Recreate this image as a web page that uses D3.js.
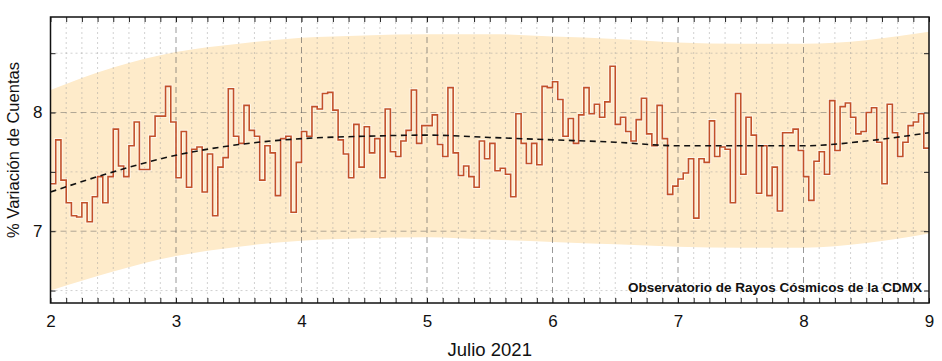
<!DOCTYPE html>
<html>
<head>
<meta charset="utf-8">
<script src="https://cdn.jsdelivr.net/npm/d3@7"></script>
<style>
body { margin: 0; background: #fff; }
text { font-family: "Liberation Sans", Arial, sans-serif; }
</style>
</head>
<body>
<svg width="942" height="361"></svg>
<script>
// hourly values, July 2 .. July 8 (24 per day)
var jul2 = [7.40, 7.77, 7.43, 7.24, 7.13, 7.12, 7.24, 7.08, 7.29, 7.46, 7.24, 7.46, 7.86, 7.55, 7.46, 7.72, 7.92, 7.52, 7.52, 7.80, 7.97, 7.97, 8.22, 7.92];
var jul3 = [7.45, 7.84, 7.37, 7.69, 7.71, 7.33, 7.65, 7.13, 7.54, 7.62, 8.20, 7.80, 7.74, 8.06, 7.85, 7.80, 7.43, 7.72, 7.66, 7.30, 7.78, 7.80, 7.16, 7.58];
var jul4 = [7.84, 7.80, 8.05, 8.03, 8.16, 8.17, 8.02, 7.77, 7.65, 7.45, 7.90, 7.54, 7.88, 7.66, 7.78, 7.45, 8.03, 7.67, 7.63, 7.76, 7.85, 8.19, 7.74, 7.89];
var jul5 = [7.89, 7.98, 7.73, 7.63, 8.21, 7.66, 7.47, 7.55, 7.46, 7.37, 7.76, 7.61, 7.74, 7.51, 7.53, 7.48, 7.29, 7.99, 7.74, 7.57, 7.74, 7.56, 8.22, 8.21];
var jul6 = [8.26, 8.11, 7.80, 7.95, 7.74, 7.98, 8.21, 7.99, 8.07, 7.96, 8.09, 8.39, 7.90, 7.96, 7.84, 7.76, 7.94, 8.12, 7.82, 7.72, 8.06, 7.78, 7.31, 7.38];
var jul7 = [7.44, 7.49, 7.61, 7.11, 7.61, 7.58, 7.93, 7.63, 7.71, 7.69, 7.24, 8.16, 7.48, 7.96, 7.81, 7.32, 7.72, 7.30, 7.54, 7.17, 7.83, 7.83, 7.86, 7.68];
var jul8 = [7.46, 7.26, 7.59, 7.67, 7.48, 8.10, 7.68, 8.05, 8.08, 7.96, 7.82, 7.84, 8.00, 8.04, 7.75, 7.40, 8.07, 7.83, 7.63, 7.75, 7.89, 7.92, 7.99, 7.70];

// smooth trend and its band, read every half day
var trendDays = [2, 2.5, 3, 3.5, 4, 4.5, 5, 5.5, 6, 6.5, 7, 7.5, 8, 8.5, 9];
var trend = [7.33, 7.50, 7.64, 7.73, 7.78, 7.80, 7.81, 7.79, 7.77, 7.75, 7.72, 7.72, 7.72, 7.76, 7.83];
var bandHigh = [8.19, 8.38, 8.51, 8.58, 8.63, 8.65, 8.66, 8.66, 8.64, 8.62, 8.59, 8.58, 8.58, 8.61, 8.68];
var bandLow = [6.50, 6.66, 6.79, 6.87, 6.92, 6.94, 6.95, 6.93, 6.91, 6.89, 6.87, 6.86, 6.86, 6.90, 6.98];

var dayTicks = [2, 3, 4, 5, 6, 7, 8, 9];
var yTicks = [7, 8];

var svg = d3.select("svg"),
    margin = {top: 17, right: 13, bottom: 58, left: 50.5},
    width = 942 - margin.left - margin.right,
    height = 361 - margin.top - margin.bottom,
    g = svg.append("g").attr("transform", "translate(" + margin.left + "," + margin.top + ")");

var x = d3.scaleLinear().domain([2, 9]).range([0, width]);
var y = d3.scaleLinear().domain([6.395, 8.805]).range([height, 0]);

var hourly = [].concat(jul2, jul3, jul4, jul5, jul6, jul7, jul8);
var series = hourly.map(function(v, i) { return {t: 2 + i / 24, v: v}; });
series.push({t: 9, v: hourly[hourly.length - 1]});

var minorX = d3.range(2, 9.001, 0.125);
var minorY = [6.5, 7.5, 8.5];

g.append("clipPath").attr("id", "clip")
  .append("rect").attr("width", width).attr("height", height);

// band
var area = d3.area()
    .x(function(d, i) { return x(trendDays[i]); })
    .y0(function(d, i) { return y(bandLow[i]); })
    .y1(function(d, i) { return y(bandHigh[i]); })
    .curve(d3.curveMonotoneX);

g.append("path")
    .datum(trend)
    .attr("clip-path", "url(#clip)")
    .attr("fill", "#feebca")
    .attr("d", area);

// grid
g.append("g").selectAll("line")
    .data(minorX.filter(function(d) { return dayTicks.indexOf(d) < 0; }))
    .enter().append("line")
    .attr("x1", x).attr("x2", x)
    .attr("y1", 0).attr("y2", height)
    .attr("stroke", "#999").attr("stroke-opacity", 0.45)
    .attr("stroke-dasharray", "2,3");

g.append("g").selectAll("line")
    .data(minorY)
    .enter().append("line")
    .attr("x1", 0).attr("x2", width)
    .attr("y1", y).attr("y2", y)
    .attr("stroke", "#999").attr("stroke-opacity", 0.45)
    .attr("stroke-dasharray", "2,3");

g.append("g").selectAll("line")
    .data(dayTicks.slice(1, -1))
    .enter().append("line")
    .attr("x1", x).attr("x2", x)
    .attr("y1", 0).attr("y2", height)
    .attr("stroke", "#555").attr("stroke-opacity", 0.6)
    .attr("stroke-dasharray", "6,4");

g.append("g").selectAll("line")
    .data(yTicks)
    .enter().append("line")
    .attr("x1", 0).attr("x2", width)
    .attr("y1", y).attr("y2", y)
    .attr("stroke", "#555").attr("stroke-opacity", 0.45)
    .attr("stroke-dasharray", "6,4");

// hourly step line
var line = d3.line()
    .x(function(d) { return x(d.t); })
    .y(function(d) { return y(d.v); })
    .curve(d3.curveStepAfter);

g.append("path")
    .datum(series)
    .attr("clip-path", "url(#clip)")
    .attr("fill", "none")
    .attr("stroke", "#fff")
    .attr("stroke-opacity", 0.6)
    .attr("stroke-width", 3.5)
    .attr("d", line);

g.append("path")
    .datum(series)
    .attr("clip-path", "url(#clip)")
    .attr("fill", "none")
    .attr("stroke", "#c2502a")
    .attr("stroke-width", 1.6)
    .attr("d", line);

// trend
var trendLine = d3.line()
    .x(function(d, i) { return x(trendDays[i]); })
    .y(function(d) { return y(d); })
    .curve(d3.curveMonotoneX);

g.append("path")
    .datum(trend)
    .attr("fill", "none")
    .attr("stroke", "#111")
    .attr("stroke-width", 1.6)
    .attr("stroke-dasharray", "6,4.5")
    .attr("d", trendLine);

// axes, ticks pointing inward
g.append("g")
    .attr("transform", "translate(0," + height + ")")
    .call(d3.axisBottom(x).tickValues(minorX).tickSize(-5).tickFormat(""))
    .call(function(a) { a.select(".domain").remove(); a.selectAll("line").attr("stroke", "#222"); });

g.append("g")
    .call(d3.axisTop(x).tickValues(minorX).tickSize(-5).tickFormat(""))
    .call(function(a) { a.select(".domain").remove(); a.selectAll("line").attr("stroke", "#222"); });

g.append("g")
    .attr("transform", "translate(0," + height + ")")
    .call(d3.axisBottom(x).tickValues(dayTicks).tickSize(0).tickPadding(12).tickFormat(d3.format("d")))
    .call(function(a) {
        a.select(".domain").remove();
        a.selectAll("text").attr("font-size", 17).attr("fill", "#111")
            .style("font-family", "'Liberation Sans', Arial, sans-serif");
    });

g.append("g")
    .call(d3.axisLeft(y).tickValues([6.5, 7, 7.5, 8, 8.5]).tickSize(-5).tickPadding(8)
        .tickFormat(function(d) { return yTicks.indexOf(d) >= 0 ? d : ""; }))
    .call(function(a) {
        a.select(".domain").remove();
        a.selectAll("line").attr("stroke", "#222");
        a.selectAll("text").attr("font-size", 17).attr("fill", "#111")
            .style("font-family", "'Liberation Sans', Arial, sans-serif");
    });

g.append("g")
    .attr("transform", "translate(" + width + ",0)")
    .call(d3.axisRight(y).tickValues([6.5, 7, 7.5, 8, 8.5]).tickSize(-5).tickFormat(""))
    .call(function(a) { a.select(".domain").remove(); a.selectAll("line").attr("stroke", "#222"); });

g.append("rect")
    .attr("width", width).attr("height", height)
    .attr("fill", "none").attr("stroke", "#111").attr("stroke-width", 1.5);

g.append("text")
    .attr("x", width - 7)
    .attr("y", height - 11)
    .attr("text-anchor", "end")
    .attr("font-size", 13.5)
    .attr("font-weight", "bold")
    .attr("fill", "#111")
    .text("Observatorio de Rayos Cósmicos de la CDMX");

g.append("text")
    .attr("x", width / 2)
    .attr("y", height + 53)
    .attr("text-anchor", "middle")
    .attr("font-size", 18.5)
    .attr("fill", "#111")
    .text("Julio 2021");

svg.append("text")
    .attr("transform", "translate(19," + (margin.top + 133) + ") rotate(-90)")
    .attr("text-anchor", "middle")
    .attr("font-size", 16.5)
    .attr("fill", "#111")
    .text("% Variación de Cuentas");
</script>
</body>
</html>
